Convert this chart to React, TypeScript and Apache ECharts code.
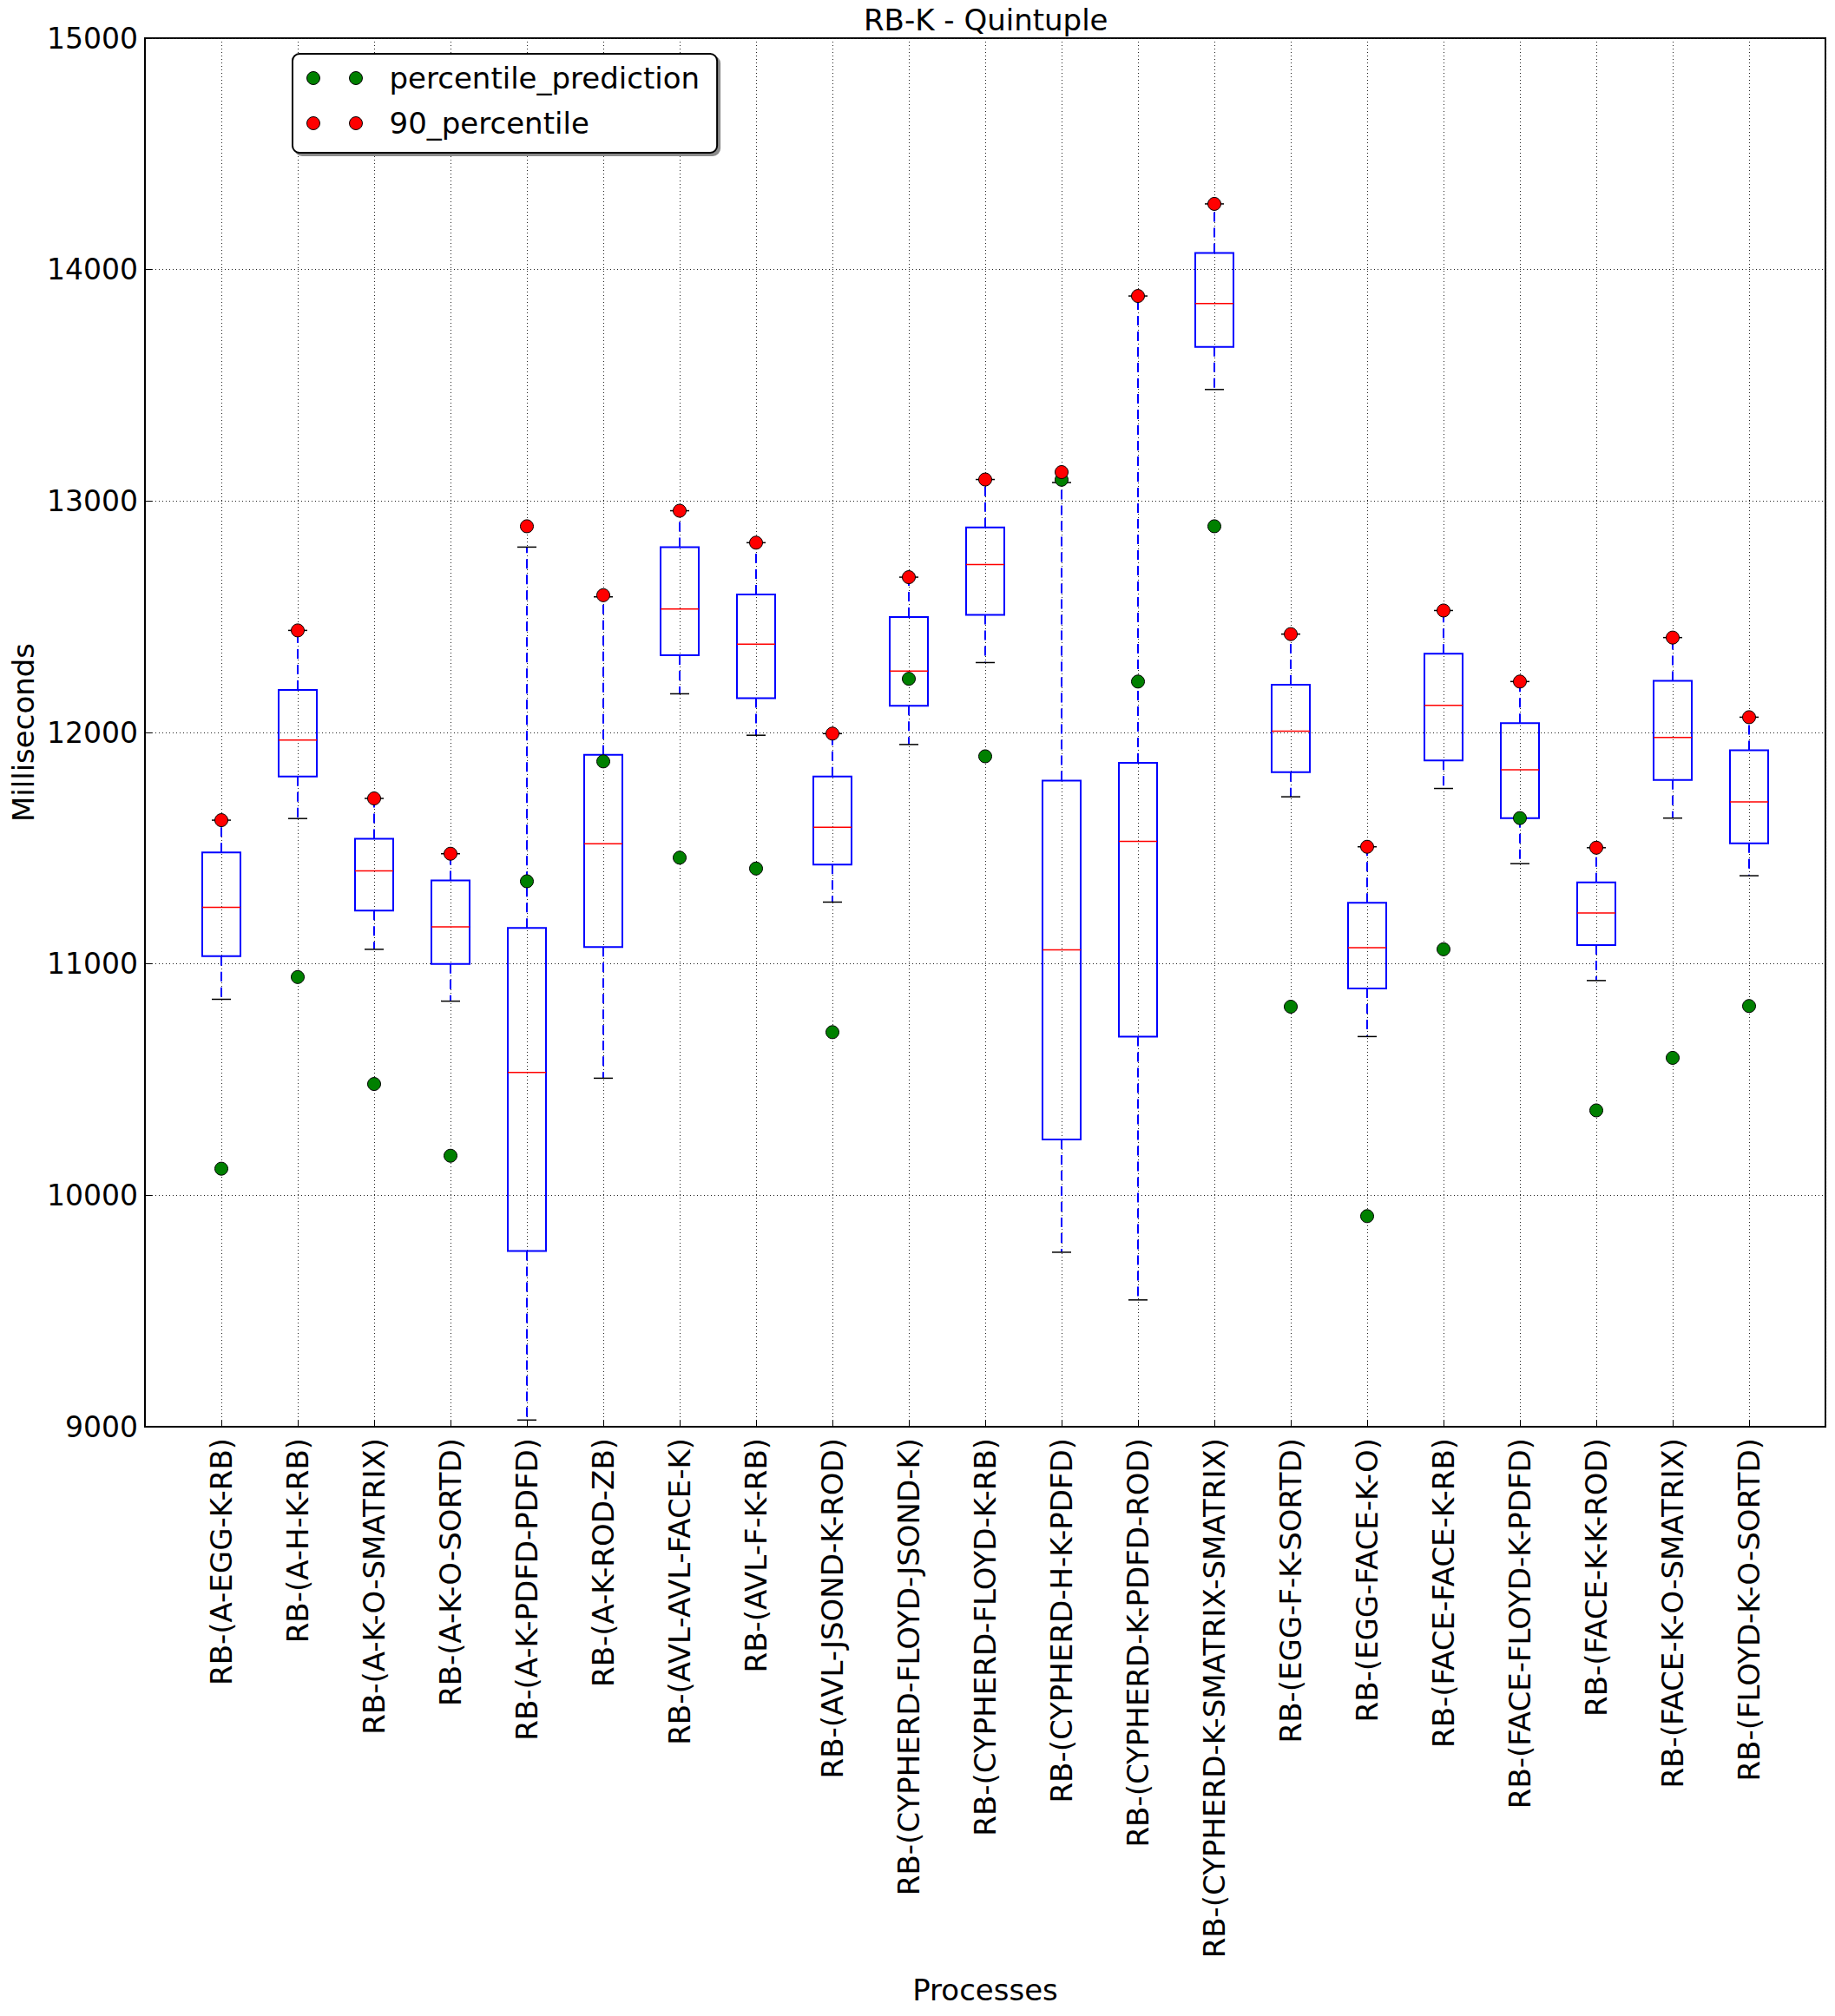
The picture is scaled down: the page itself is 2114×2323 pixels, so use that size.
import React, { useEffect, useRef } from "react";
import * as echarts from "echarts";

const categories = [
  "RB-(A-EGG-K-RB)",
  "RB-(A-H-K-RB)",
  "RB-(A-K-O-SMATRIX)",
  "RB-(A-K-O-SORTD)",
  "RB-(A-K-PDFD-PDFD)",
  "RB-(A-K-ROD-ZB)",
  "RB-(AVL-AVL-FACE-K)",
  "RB-(AVL-F-K-RB)",
  "RB-(AVL-JSOND-K-ROD)",
  "RB-(CYPHERD-FLOYD-JSOND-K)",
  "RB-(CYPHERD-FLOYD-K-RB)",
  "RB-(CYPHERD-H-K-PDFD)",
  "RB-(CYPHERD-K-PDFD-ROD)",
  "RB-(CYPHERD-K-SMATRIX-SMATRIX)",
  "RB-(EGG-F-K-SORTD)",
  "RB-(EGG-FACE-K-O)",
  "RB-(FACE-FACE-K-RB)",
  "RB-(FACE-FLOYD-K-PDFD)",
  "RB-(FACE-K-K-ROD)",
  "RB-(FACE-K-O-SMATRIX)",
  "RB-(FLOYD-K-O-SORTD)",
];

const whiskerLow = [10847, 11628, 11063, 10839, 9029, 10506, 12167, 11988, 11267, 11948, 12302, 9754, 9548, 13482, 11722, 10686, 11758, 11433, 10928, 11630, 11381];
const q1 = [11033, 11810, 11230, 11000, 9759, 11073, 12334, 12148, 11429, 12115, 12508, 10241, 10686, 13666, 11828, 10894, 11879, 11630, 11081, 11795, 11521];
const median = [11244, 11967, 11402, 11160, 10531, 11519, 12533, 12382, 11590, 12265, 12726, 11061, 11529, 13853, 12006, 11070, 12117, 11839, 11220, 11978, 11700];
const q3 = [11482, 12184, 11541, 11361, 11155, 11903, 12801, 12596, 11810, 12499, 12886, 11792, 11869, 14072, 12206, 11264, 12340, 12040, 11352, 12223, 11923];
const whiskerHigh = [11621, 12441, 11715, 11476, 12801, 12586, 12958, 12820, 11995, 12671, 13093, 13080, 13886, 14284, 12425, 11506, 12527, 12220, 11502, 12410, 12066];
const percentilePrediction = [10115, 10943, 10481, 10171, 11357, 11875, 11459, 11412, 10705, 12232, 11897, 13092, 12220, 12891, 10815, 9910, 11063, 11630, 10367, 10594, 10818];
const percentile90 = [11621, 12441, 11715, 11476, 12891, 12593, 12958, 12820, 11995, 12671, 13093, 13125, 13886, 14284, 12425, 11506, 12527, 12220, 11502, 12410, 12066];

const yMin = 9000;
const yMax = 15000;
const yStep = 1000;

const FONT = "DejaVu Sans";

export default function App() {
  const ref = useRef<HTMLDivElement>(null);

  useEffect(() => {
    const chart = echarts.init(ref.current!, null, { renderer: "svg" });

    const boxData = categories.map((_, i) => [
      i + 1,
      whiskerLow[i],
      q1[i],
      median[i],
      q3[i],
      whiskerHigh[i],
    ]);
    const greenData = percentilePrediction.map((v, i) => [i + 1, v]);
    const redData = percentile90.map((v, i) => [i + 1, v]);

    const gridLine = { color: "#222", width: 1, type: [1, 3] as any };

    const option: any = {
      animation: false,
      textStyle: { fontFamily: FONT, color: "#000" },
      title: {
        text: "RB-K - Quintuple",
        left: 995,
        top: 6,
        padding: 0,
        textStyle: { fontSize: 34, fontWeight: "normal", fontFamily: FONT, color: "#000" },
      },
      legend: {
        orient: "vertical",
        left: 337,
        top: 62,
        data: [{ name: "percentile_prediction" }, { name: "90_percentile" }],
        icon: "path://M0,7.5A7.5,7.5,0,1,1,15,7.5A7.5,7.5,0,1,1,0,7.5ZM49,7.5A7.5,7.5,0,1,1,64,7.5A7.5,7.5,0,1,1,49,7.5Z",
        itemWidth: 64,
        itemHeight: 15,
        itemGap: 12,
        padding: [8, 20, 14, 16],
        backgroundColor: "#fff",
        borderColor: "#000",
        borderWidth: 2,
        borderRadius: 8,
        shadowColor: "rgba(0,0,0,0.45)",
        shadowOffsetX: 3,
        shadowOffsetY: 3,
        shadowBlur: 0,
        itemStyle: { borderColor: "#000", borderWidth: 1 },
        textStyle: {
          fontSize: 34,
          fontFamily: FONT,
          color: "#000",
          lineHeight: 40,
          padding: [0, 0, 0, 26],
        },
      },
      grid: {
        left: 167,
        top: 44,
        width: 1936,
        height: 1600,
        containLabel: false,
        outerBoundsMode: "none",
        show: true,
        borderColor: "#000",
        borderWidth: 2,
        backgroundColor: "transparent",
      },
      xAxis: {
        type: "value",
        min: 0,
        max: categories.length + 1,
        interval: 1,
        name: "Processes",
        nameLocation: "middle",
        nameGap: 632,
        nameMoveOverlap: false,
        nameTextStyle: { fontSize: 34, fontFamily: FONT, color: "#000" },
        axisLine: { show: true, lineStyle: { color: "#000", width: 2 } },
        axisTick: { show: true, inside: true, length: 8, lineStyle: { color: "#000", width: 1 } },
        axisLabel: {
          rotate: 90,
          margin: 13,
          fontSize: 34,
          fontFamily: FONT,
          color: "#000",
          showMinLabel: false,
          showMaxLabel: false,
          formatter: (v: number) =>
            Number.isInteger(v) && v >= 1 && v <= categories.length ? categories[v - 1] : "",
        },
        splitLine: { show: true, lineStyle: gridLine },
      },
      yAxis: {
        type: "value",
        min: yMin,
        max: yMax,
        interval: yStep,
        name: "Milliseconds",
        nameLocation: "middle",
        nameGap: 123,
        nameRotate: 90,
        nameMoveOverlap: false,
        nameTextStyle: { fontSize: 34, fontFamily: FONT, color: "#000" },
        axisLine: { show: true, lineStyle: { color: "#000", width: 2 } },
        axisTick: { show: true, inside: true, length: 8, lineStyle: { color: "#000", width: 1 } },
        axisLabel: {
          fontSize: 33,
          fontFamily: FONT,
          color: "#000",
          margin: 8,
          formatter: (v: number) => String(v),
        },
        splitLine: { show: true, lineStyle: gridLine },
      },
      series: [
        {
          name: "boxes",
          type: "custom",
          encode: { x: 0, y: [1, 2, 3, 4, 5] },
          data: boxData,
          z: 2,
          renderItem: (params: any, api: any) => {
            const x = api.value(0);
            const pLow = api.coord([x, api.value(1)]);
            const pQ1 = api.coord([x, api.value(2)]);
            const pMed = api.coord([x, api.value(3)]);
            const pQ3 = api.coord([x, api.value(4)]);
            const pHigh = api.coord([x, api.value(5)]);
            const band = api.size([1, 0])[0];
            const half = band * 0.25;
            const capHalf = band * 0.125;
            const cx = pMed[0];
            const whiskerStyle = { stroke: "#0000ff", lineWidth: 2, lineDash: [11, 7], fill: null };
            const capStyle = { stroke: "#000", lineWidth: 1.5, fill: null };
            return {
              type: "group",
              children: [
                { type: "line", shape: { x1: cx, y1: pQ3[1], x2: cx, y2: pHigh[1] }, style: whiskerStyle },
                { type: "line", shape: { x1: cx, y1: pQ1[1], x2: cx, y2: pLow[1] }, style: whiskerStyle },
                { type: "line", shape: { x1: cx - capHalf, y1: pHigh[1], x2: cx + capHalf, y2: pHigh[1] }, style: capStyle },
                { type: "line", shape: { x1: cx - capHalf, y1: pLow[1], x2: cx + capHalf, y2: pLow[1] }, style: capStyle },
                {
                  type: "rect",
                  shape: { x: cx - half, y: pQ3[1], width: half * 2, height: pQ1[1] - pQ3[1] },
                  style: { stroke: "#0000ff", lineWidth: 2, fill: null },
                },
                {
                  type: "line",
                  shape: { x1: cx - half, y1: pMed[1], x2: cx + half, y2: pMed[1] },
                  style: { stroke: "#ff0000", lineWidth: 1.5, fill: null },
                },
              ],
            };
          },
        },
        {
          name: "percentile_prediction",
          type: "scatter",
          data: greenData,
          symbol: "circle",
          symbolSize: 15,
          z: 3,
          itemStyle: { color: "#008000", borderColor: "#000", borderWidth: 1, opacity: 1 },
        },
        {
          name: "90_percentile",
          type: "scatter",
          data: redData,
          symbol: "circle",
          symbolSize: 15,
          z: 4,
          itemStyle: { color: "#ff0000", borderColor: "#000", borderWidth: 1, opacity: 1 },
        },
      ],
    };

    chart.setOption(option);
    return () => chart.dispose();
  }, []);

  return (
    <div
      ref={ref}
      style={{ position: "absolute", left: 0, top: 0, width: 2114, height: 2323, background: "#fff" }}
    />
  );
}
